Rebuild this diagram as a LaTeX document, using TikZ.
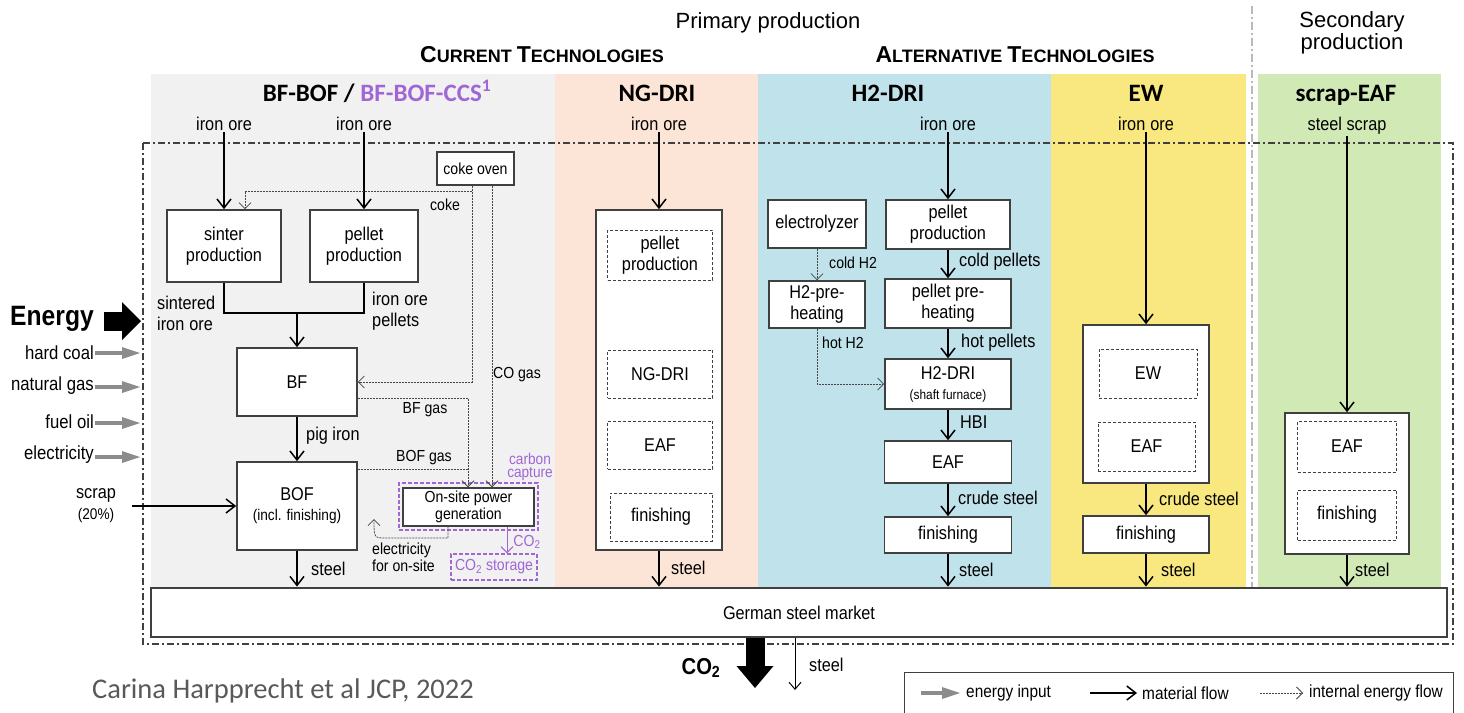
\documentclass[tikz,border=0pt]{standalone}
\usepackage{fontspec}
\setmainfont{Liberation Sans}
\newfontfamily\narrow{Liberation Sans}[FakeStretch=0.88]
\newfontfamily\calib{Carlito}
\newfontfamily\arialf{Liberation Sans}
\usetikzlibrary{arrows.meta,calc}
\definecolor{boxline}{RGB}{64,64,64}
\definecolor{colgray}{RGB}{241,241,241}
\definecolor{colpeach}{RGB}{252,229,214}
\definecolor{colblue}{RGB}{192,226,235}
\definecolor{colyellow}{RGB}{249,232,128}
\definecolor{colgreen}{RGB}{209,234,181}
\definecolor{ccs}{RGB}{160,102,214}
\definecolor{egray}{RGB}{140,140,140}
\definecolor{intline}{RGB}{70,70,70}
\definecolor{citegray}{RGB}{89,89,89}
\definecolor{sepgray}{RGB}{185,185,185}
\newcommand\bigC[1]{{\fontsize{23}{24}\selectfont #1}}
\newcommand\smC[1]{{\fontsize{18}{24}\selectfont #1}}
\tikzset{
  fN/.style={font=\narrow\fontsize{18.5}{21}\selectfont},
  fS/.style={font=\narrow\fontsize{16}{17}\selectfont},
  ttl/.style={font=\calib\bfseries\fontsize{25}{25}\selectfont, anchor=base, inner sep=0pt},
  box/.style={draw=boxline, line width=1.6pt, fill=white, align=center, inner sep=0pt, fN},
  dbox/.style={draw=boxline, line width=0.8pt, dash pattern=on 3pt off 2pt, align=center, inner sep=0pt, fN},
  lbl/.style={fN, inner sep=1pt},
  slbl/.style={fS, inner sep=1pt},
  elbl/.style={font=\narrow\fontsize{19}{21}\selectfont, inner sep=1pt, anchor=east},
  leg/.style={font=\narrow\fontsize{17.5}{20}\selectfont, inner sep=1pt, anchor=west},
  ore/.style={fN, anchor=base, inner sep=2pt},
  mat/.style={draw=black, line width=1.5pt, -{Straight Barb[length=9pt,width=14pt]}},
  matl/.style={draw=black, line width=1.5pt},
  int/.style={draw=intline, line width=0.8pt, dash pattern=on 2pt off 1pt, -{Straight Barb[length=6pt,width=12pt]}},
  intl/.style={draw=intline, line width=0.8pt, dash pattern=on 2pt off 1pt},
  ein/.style={draw=egray, line width=4pt, -{Triangle[length=18pt,width=12pt,line width=0pt]}},
  dashdot/.style={draw=boxline, line width=1.3pt, dash pattern=on 7pt off 3pt on 2pt off 3pt},
  ccsbox/.style={draw=ccs, line width=1.5pt, dash pattern=on 4pt off 2pt, inner sep=0pt},
}
\begin{document}
\begin{tikzpicture}[x=1pt,y=-1pt]
\useasboundingbox (0,0) rectangle (1464,712);
\fill[white] (0,0) rectangle (1464,712);
% column backgrounds
\fill[colgray] (151,74) rectangle (555,588);
\fill[colpeach] (555,74) rectangle (758,588);
\fill[colblue] (758,74) rectangle (1051,588);
\fill[colyellow] (1051,74) rectangle (1246,588);
\fill[colgreen] (1258,74) rectangle (1441,588);
\draw[sepgray, line width=2.5pt, dash pattern=on 8pt off 3pt on 2pt off 3pt] (1252,6) -- (1252,588);
\draw[dashdot] (143,143) rectangle (1453,644);

% headers
\node[font=\arialf\fontsize{22}{22}\selectfont, anchor=base, inner sep=0pt] (primary) at (768,28) {Primary production};
\node[font=\arialf\fontsize{22}{22}\selectfont, anchor=north, align=center, inner sep=0pt] (secondary) at (1352,11) {Secondary\\production};
\node[font=\arialf\bfseries, anchor=base, inner sep=0pt] (curtech) at (542,62) {\bigC{C}\smC{URRENT\ }\bigC{T}\smC{ECHNOLOGIES}};
\node[font=\arialf\bfseries, anchor=base, inner sep=0pt] (alttech) at (1015,62) {\bigC{A}\smC{LTERNATIVE\ }\bigC{T}\smC{ECHNOLOGIES}};
\node[ttl] (t1) at (377,101) {BF-BOF / \textcolor{ccs}{BF-BOF-CCS\textsuperscript{1}}};
\node[ttl] (t2) at (657,101) {NG-DRI};
\node[ttl] (t3) at (888,101) {H2-DRI};
\node[ttl] (t4) at (1146,101) {EW};
\node[ttl] (t5) at (1346,101) {scrap-EAF};

% input labels
\node[ore] (o1) at (224,130) {iron\hspace{5pt}ore};
\node[ore] (o2) at (364,130) {iron\hspace{5pt}ore};
\node[ore] (o3) at (659,130) {iron\hspace{5pt}ore};
\node[ore] (o4) at (948,130) {iron\hspace{5pt}ore};
\node[ore] (o5) at (1146,130) {iron\hspace{5pt}ore};
\node[ore] (o6) at (1347,130) {steel scrap};

% BF-BOF
\node[box, minimum width=114pt, minimum height=72pt] (sinter) at (224,246) {sinter\\production};
\node[box, minimum width=108pt, minimum height=72pt] (pel1) at (364,246) {pellet\\production};
\node[box, fS, minimum width=77pt, minimum height=33pt, line width=1.3pt] (coke) at (475.5,168.5) {coke oven};
\node[box, minimum width=120pt, minimum height=68pt] (bf) at (297,382) {BF};
\node[box, minimum width=120pt, minimum height=88pt] (bof) at (297,506) {BOF\\[-1pt]{\fontsize{15.5}{17}\selectfont(incl. finishing)}};
\node[ccsbox, minimum width=139pt, minimum height=47pt] (capt) at (468.5,506.5) {};
\node[box, fS, line width=1.4pt, minimum width=131pt, minimum height=38pt] (onsite) at (468.5,507) {On-site power\\generation};
\node[ccsbox, fS, text=ccs, minimum width=86pt, minimum height=26pt] (co2s) at (494,567) {CO\textsubscript{2} storage};

% NG-DRI
\node[box, minimum width=126pt, minimum height=340pt] (ngbox) at (659,380) {};
\node[dbox, minimum width=105pt, minimum height=50pt] (ngpel) at (660,255) {pellet\\production};
\node[dbox, minimum width=105pt, minimum height=48pt] (ngdri) at (660,374) {NG-DRI};
\node[dbox, minimum width=105pt, minimum height=48pt] (ngeaf) at (660,445) {EAF};
\node[dbox, minimum width=102pt, minimum height=48pt] (ngfin) at (661,517) {finishing};

% H2-DRI
\node[box, minimum width=98pt, minimum height=48pt] (elec) at (817,224) {electrolyzer};
\node[box, minimum width=96pt, minimum height=47pt] (h2pre) at (817,304.5) {H2-pre-\\heating};
\node[box, minimum width=124pt, minimum height=49pt] (pel2) at (948,224.5) {pellet\\production};
\node[box, minimum width=126pt, minimum height=49pt] (ppre) at (948,303.5) {pellet pre-\\heating};
\node[box, minimum width=126pt, minimum height=50pt] (h2dri) at (948,384) {H2-DRI\\[-1pt]{\fontsize{13.5}{15}\selectfont(shaft furnace)}};
\node[box, minimum width=127pt, minimum height=42pt] (eaf2) at (948,462) {EAF};
\node[box, minimum width=127pt, minimum height=36pt] (fin2) at (948,535) {finishing};

% EW
\node[box, minimum width=126pt, minimum height=158pt] (ewbox) at (1146,404) {};
\node[dbox, minimum width=98pt, minimum height=49pt] (ew) at (1148,373.5) {EW};
\node[dbox, minimum width=97pt, minimum height=49pt] (eaf3) at (1146.5,446.5) {EAF};
\node[box, minimum width=126pt, minimum height=37pt] (fin3) at (1146,534.5) {finishing};

% scrap-EAF
\node[box, minimum width=124pt, minimum height=141pt] (sbox) at (1347,483.5) {};
\node[dbox, minimum width=99pt, minimum height=51pt] (eaf4) at (1347,446.5) {EAF};
\node[dbox, minimum width=99pt, minimum height=50pt] (fin4) at (1347,515) {finishing};

% market
\node[box, line width=2.8pt, minimum width=1296pt, minimum height=49pt] (market) at (799,612.5) {German steel market};

% material flows
\coordinate (mrg) at (297,313);
\coordinate (scrapS) at (132,506);
\draw[mat] (o1.south) -- (sinter.north);
\draw[mat] (o2.south) -- (pel1.north);
\draw[matl] (sinter.south) |- (mrg) -| (pel1.south);
\draw[mat] (mrg) -- (bf.north);
\draw[mat] (bf.south) -- (bof.north);
\draw[mat] (bof.south) -- (bof.south |- market.north);
\draw[mat] (scrapS) -- (bof.west);
\draw[mat] (o3.south) -- (ngbox.north);
\draw[mat] (ngbox.south) -- (ngbox.south |- market.north);
\draw[mat] (o4.south) -- (pel2.north);
\draw[mat] (pel2.south) -- (ppre.north);
\draw[mat] (ppre.south) -- (h2dri.north);
\draw[mat] (h2dri.south) -- (eaf2.north);
\draw[mat] (eaf2.south) -- (fin2.north);
\draw[mat] (fin2.south) -- (fin2.south |- market.north);
\draw[mat] (o5.south) -- (ewbox.north);
\draw[mat] (ewbox.south) -- (fin3.north);
\draw[mat] (fin3.south) -- (fin3.south |- market.north);
\draw[mat] (o6.south) -- (sbox.north);
\draw[mat] (sbox.south) -- (sbox.south |- market.north);

% internal energy flows
\coordinate (kA) at (472,191);
\coordinate (kB) at (492,0);
\coordinate (kC) at (468,398);
\coordinate (kD) at (0,469);
\coordinate (kE) at (448,538);
\coordinate (kF) at (507,0);
\coordinate (sinIn) at (245,0);
\coordinate (elC) at (386,538);
\coordinate (elT) at (374,519);
\draw[int] (coke.south -| kA) |- (bf.east);
\draw[int] (kA) -| (sinter.north -| sinIn);
\draw[int] (coke.south -| kB) -- (onsite.north -| kB);
\draw[int] (bf.east |- kC) -| (onsite.north -| kC);
\draw[intl] (bof.east |- kD) -- (kC |- kD);
\draw[int] (onsite.south -| kE) -- (kE) -- (elC) .. controls (374,538) .. (elT);
\draw[ccs, line width=1pt, -{Straight Barb[length=6pt,width=12pt]}] (onsite.south -| kF) -- (co2s.north -| kF);
\draw[int] (elec.south) -- (h2pre.north);
\draw[int] (h2pre.south) |- (h2dri.west);

% flow labels
\node[lbl, anchor=west, align=left] (sint) at (156,313) {sintered\\iron\hspace{5pt}ore};
\node[lbl, anchor=west, align=left] (iop) at (371,311) {iron\hspace{5pt}ore\\pellets};
\node[lbl, anchor=west] (pig) at (305,436) {pig iron};
\node[lbl, anchor=west] (st1) at (310,569) {steel};
\node[slbl] (cokel) at (445,205) {coke};
\node[slbl] (cogas) at (517,375) {CO gas};
\node[slbl] (bfgas) at (425,410) {BF gas};
\node[slbl] (bofgas) at (424,458) {BOF gas};
\node[inner sep=1pt, text=ccs, align=center, font=\narrow\fontsize{15.5}{13.5}\selectfont] (cc) at (530,467) {carbon\\capture};
\node[slbl, align=left, anchor=west] (elos) at (371,557) {electricity\\for on-site};
\node[slbl, text=ccs] (co2l) at (527,542) {CO\textsubscript{2}};
\node[lbl, anchor=west] (st2) at (670,568) {steel};
\node[slbl, anchor=west] (coldh) at (828,263) {cold H2};
\node[slbl, anchor=west] (hoth) at (821,343) {hot H2};
\node[lbl, anchor=west] (coldp) at (958,262) {cold pellets};
\node[lbl, anchor=west] (hotp) at (960,343) {hot pellets};
\node[lbl, anchor=west] (hbi) at (959,422) {HBI};
\node[lbl, anchor=west] (cs2) at (957,498) {crude steel};
\node[lbl, anchor=west] (st3) at (958,570) {steel};
\node[lbl, anchor=west] (cs3) at (1158,499) {crude steel};
\node[lbl, anchor=west] (st4) at (1160,570) {steel};
\node[lbl, anchor=west] (st5) at (1354,570) {steel};

% energy inputs
\node[font=\narrow\bfseries\fontsize{28}{28}\selectfont, anchor=base, inner sep=0pt] (energy) at (52,325) {Energy};
\coordinate (enA) at (104,321);
\coordinate (enB) at (141,321);
\draw[line width=19pt, -{Triangle[length=19pt,width=38pt,line width=0pt]}] (enA) -- (enB);
\node[elbl] (hc) at (95,353) {hard coal};
\node[elbl] (ngas) at (95,386) {natural gas};
\node[elbl] (fo) at (95,422) {fuel oil};
\node[elbl] (el) at (95,455) {electricity};
\coordinate (hcT) at (140,353);
\coordinate (ngT) at (140,387);
\coordinate (foT) at (140,423);
\coordinate (elTT) at (140,457);
\draw[ein] (hc.east |- hcT) -- (hcT);
\draw[ein] (ngas.east |- ngT) -- (ngT);
\draw[ein] (fo.east |- foT) -- (foT);
\draw[ein] (el.east |- elTT) -- (elTT);
\node[lbl, align=center] (scr) at (96,506) {scrap\\{\fontsize{15.5}{17}\selectfont(20\%)}};

% bottom
\coordinate (co2x) at (755,688);
\draw[line width=19pt, -{Triangle[length=22pt,width=37pt,line width=0pt]}] (market.south -| co2x) -- (co2x);
\node[font=\narrow\bfseries\fontsize{23}{23}\selectfont] (co2big) at (701,668) {CO\textsubscript{2}};
\coordinate (stx) at (795,690);
\draw[line width=1pt, -{Straight Barb[length=7pt,width=12pt]}] (market.south -| stx) -- (stx);
\node[lbl, anchor=west] (st6) at (808,665) {steel};

% legend
\node[draw=boxline, line width=1pt, minimum width=549pt, minimum height=46pt, inner sep=0pt] (legend) at (1178.5,695) {};
\coordinate (l1a) at (921,693);
\coordinate (l1b) at (960,693);
\coordinate (l2a) at (1090,693);
\coordinate (l2b) at (1137,693);
\coordinate (l3a) at (1260,693);
\coordinate (l3b) at (1303,693);
\draw[ein] (l1a) -- (l1b);
\draw[mat] (l2a) -- (l2b);
\draw[int] (l3a) -- (l3b);
\node[leg] (lt1) at (965,693) {energy input};
\node[leg] (lt2) at (1141,693) {material flow};
\node[leg] (lt3) at (1308,693) {internal energy flow};

\node[font=\calib\fontsize{28.5}{28.5}\selectfont, text=citegray] (cite) at (283,691) {Carina Harpprecht et al JCP, 2022};
\end{tikzpicture}
\end{document}
